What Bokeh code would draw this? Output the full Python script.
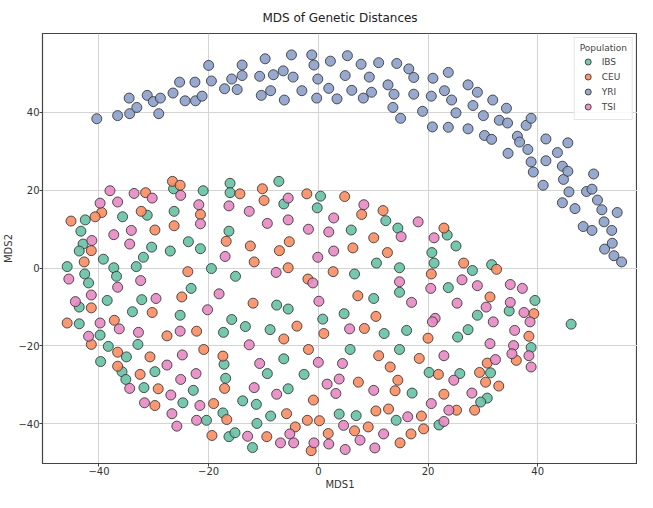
from bokeh.plotting import figure
from bokeh.models import FixedTicker, Range1d
from bokeh.embed import file_html
from bokeh.resources import INLINE

populations = ["IBS", "CEU", "YRI", "TSI"]
colors = ["#66c2a5", "#fc8d62", "#8da0cb", "#e78ac3"]

ibs = [(-26.4,20.4),(-7.2,22.3),(-21.0,19.9),(-16.1,21.8),(-16.1,19.4),(0.4,18.5),(12.3,12.2),(-6.3,16.5),
       (-0.2,15.5),(-42.5,12.4),(-35.7,13.2),(-31.2,13.6),(-26.3,14.6),(-43.3,9.5),(-16.3,9.5),(6.0,9.8),
       (14.5,10.3),(23.5,8.5),(-42.9,6.2),(-43.6,4.4),(-30.4,5.4),(-27.0,4.4),(-23.7,6.8),(-21.5,5.0),
       (25.1,5.7),(20.7,4.0),(-39.2,2.3),(-31.9,2.8),(10.6,1.3),(21.1,1.3),(31.6,0.9),(-45.8,0.4),
       (-37.3,0.1),(-33.2,0.4),(-19.5,-0.1),(14.8,0.1),(-42.6,-1.5),(-41.9,-3.8),(-36.8,-2.1),(-23.2,-5.2),
       (-15.1,-2.1),(6.6,-1.5),(28.1,-0.6),(23.7,-5.0),(14.8,-6.2),(39.5,-8.3),(-38.5,-8.3),(-43.6,-10.0),
       (-32.2,-8.1),(-7.6,-9.5),(-5.5,-10.5),(10.1,-7.8),(34.8,-11.0),(-33.9,-11.2),(-25.2,-12.1),
       (-43.6,-14.3),(-15.8,-13.2),(-13.3,-15.0),(4.7,-11.7),(0.8,-13.1),(29.0,-12.1),(46.1,-14.4),
       (-17.3,-16.5),(-8.8,-15.8),(12.0,-16.8),(16.1,-16.0),(27.3,-15.8),(-39.8,-17.2),(-32.9,-19.6),
       (-38.3,-20.1),(25.4,-17.7),(38.8,-20.4),(5.8,-20.9),(14.8,-20.9),(-35.0,-22.8),(-17.2,-24.7),
       (-39.7,-24.0),(-6.3,-23.3),(-35.8,-26.6),(-35.1,-28.6),(-29.8,-26.6),(-16.9,-28.3),(-9.3,-27.1),
       (-2.6,-27.3),(20.2,-26.8),(25.8,-27.1),(31.4,-26.9),(-31.8,-30.7),(-22.8,-31.4),(-5.5,-31.0),
       (17.1,-32.1),(30.8,-33.4),(29.6,-34.4),(-24.7,-34.6),(-13.8,-34.1),(-11.3,-35.0),(-17.4,-37.2),
       (-8.7,-38.0),(3.8,-37.5),(6.9,-37.9),(14.2,-39.1),(-20.4,-39.1),(-11.2,-39.9),(22.0,-40.3),
       (-16.3,-43.3),(-15.2,-42.3),(-12.0,-46.1)]

ceu = [(-26.6,22.3),(-25.2,21.3),(-31.5,19.4),(-14.3,19.1),(-10.2,20.4),(-9.9,17.4),(-2.1,19.1),(4.8,18.4),
       (7.9,13.8),(11.8,14.8),(-21.5,13.8),(-39.5,14.3),(-40.7,13.2),(-45.1,12.1),(-32.3,14.6),(-26.3,10.9),
       (-29.8,9.8),(10.1,7.8),(22.9,10.3),(-41.4,4.5),(-16.8,6.9),(-12.4,5.7),(-7.1,4.5),(-5.3,6.8),
       (6.3,5.2),(12.6,4.0),(26.5,1.3),(32.5,-0.3),(-42.7,1.6),(-11.7,1.6),(-23.8,-0.9),(-5.5,0.1),
       (-1.9,-2.8),(2.7,-0.9),(20.6,-1.5),(-24.9,-7.4),(-11.9,-9.0),(7.2,-7.1),(31.3,-7.4),(39.3,-11.7),
       (-41.4,-10.2),(-30.3,-11.4),(-37.2,-13.4),(-45.8,-14.1),(-3.9,-14.9),(10.5,-12.4),(-22.2,-16.2),
       (1.0,-16.8),(8.4,-15.5),(38.4,-17.5),(-27.6,-17.4),(-41.4,-19.6),(-6.3,-18.2),(20.0,-18.0),
       (-20.9,-20.9),(-1.8,-20.9),(-36.6,-21.6),(-30.7,-22.8),(-17.4,-22.6),(36.1,-23.7),(11.0,-22.5),
       (18.4,-23.2),(30.8,-24.4),(13.1,-25.4),(-36.6,-25.2),(-32.5,-27.3),(21.9,-27.3),(29.4,-26.8),
       (14.5,-28.8),(7.3,-29.3),(30.5,-29.3),(32.9,-30.3),(-29.2,-31.0),(-17.1,-30.9),(14.0,-31.5),
       (22.9,-32.4),(-0.9,-33.9),(-29.8,-35.3),(-19.1,-34.8),(10.5,-36.7),(12.8,-36.2),(25.2,-36.5),
       (28.5,-36.5),(-16.7,-38.9),(-5.8,-37.4),(-2.0,-39.1),(0.2,-39.2),(18.8,-38.0),(-4.2,-40.8),
       (6.6,-41.8),(9.1,-40.8),(19.2,-41.3),(-19.4,-43.0),(-9.4,-43.3),(1.8,-42.5),(16.9,-42.6),
       (14.9,-44.9),(-1.3,-46.9)]

yri = [(-40.4,38.4),(-36.6,39.2),(-34.5,43.7),(-34.4,39.7),(-33.1,41.3),(-31.2,44.4),(-30.1,42.8),
       (-29.1,39.7),(-28.8,43.7),(-26.5,45.0),(-25.3,47.8),(-24.3,43.0),(-22.5,47.8),(-22.4,43.0),
       (-21.2,44.2),(-20.0,52.1),(-19.5,48.1),(-17.1,46.1),(-15.8,48.6),(-14.8,45.9),(-13.9,52.2),
       (-13.9,49.5),(-10.7,49.3),(-10.4,44.4),(-9.7,53.8),(-8.7,45.6),(-8.2,49.7),(-6.4,50.7),(-6.2,43.2),
       (-4.9,54.8),(-4.6,49.1),(-3.0,45.6),(-1.2,54.8),(-0.8,52.2),(-0.3,43.7),(-0.1,48.6),(2.2,53.2),
       (1.9,46.2),(3.4,43.5),(4.9,49.5),(5.3,54.6),(6.1,45.7),(7.8,52.4),(8.2,43.7),(9.3,49.1),(9.7,45.2),
       (11.0,52.8),(12.7,47.1),(13.6,41.3),(13.8,44.7),(14.3,52.6),(15.0,38.5),(16.5,51.2),(17.4,49.0),
       (17.4,44.7),(19.0,40.3),(20.8,36.3),(20.6,44.2),(20.9,48.8),(23.0,45.6),(23.7,50.3),(23.7,36.2),
       (24.3,43.2),(25.1,39.9),(27.3,35.8),(27.3,47.1),(28.2,41.8),(29.0,45.2),(30.1,39.2),(30.3,34.1),
       (31.6,33.1),(31.8,43.2),(33.0,38.0),(34.3,41.1),(34.5,37.3),(34.6,29.5),(36.3,33.9),(36.7,32.4),
       (37.9,36.7),(38.2,30.5),(38.8,38.5),(38.8,27.3),(39.2,24.7),(41.0,21.3),(41.5,33.2),(41.5,27.6),
       (43.6,29.7),(44.5,26.2),(44.5,16.8),(44.7,22.8),(45.5,32.2),(45.5,24.9),(45.7,19.6),(46.8,15.3),
       (48.3,10.7),(48.9,19.7),(49.9,9.7),(49.9,20.3),(50.2,24.2),(50.9,17.5),(51.7,15.0),(52.1,11.9),
       (52.2,4.9),(53.5,9.7),(53.6,6.4),(53.9,3.2),(54.5,14.3),(55.3,1.6)]

tsi = [(-25.1,18.7),(-38.0,19.9),(-33.6,19.2),(-30.3,18.0),(-5.5,18.0),(8.3,16.3),(18.2,11.9),(-16.3,16.0),
       (-21.8,16.3),(-21.5,11.4),(-39.8,16.7),(-36.6,17.0),(-12.6,14.6),(-5.5,12.4),(-9.3,11.5),(2.8,12.9),
       (-37.3,8.6),(-34.1,9.7),(-1.8,10.0),(1.9,9.3),(15.1,8.1),(21.1,7.8),(-41.3,7.1),(-34.4,6.2),
       (2.8,4.4),(-17.0,3.0),(-0.1,2.8),(-45.5,-2.8),(-36.6,-4.9),(-32.4,-3.2),(-7.7,-1.1),(-1.0,-3.8),
       (20.5,-5.2),(26.2,-3.0),(29.0,-4.5),(14.8,-3.5),(35.0,-4.2),(37.2,-5.2),(-41.4,-6.9),(-44.3,-8.6),
       (-29.6,-7.8),(-18.1,-6.6),(0.1,-8.5),(17.0,-8.8),(25.3,-9.0),(30.6,-10.0),(35.0,-8.8),(37.5,-11.4),
       (-20.2,-10.7),(-39.8,-14.1),(-36.3,-15.6),(21.3,-12.9),(20.8,-13.8),(31.9,-13.8),(38.6,-13.8),
       (-25.2,-16.2),(-32.8,-16.5),(5.7,-15.6),(35.8,-16.0),(-41.9,-17.5),(-12.6,-19.7),(31.3,-19.4),
       (35.6,-19.9),(-24.8,-22.3),(35.3,-22.0),(38.4,-22.5),(38.8,-25.4),(22.9,-22.5),(32.3,-23.5),
       (0.0,-24.2),(4.4,-24.5),(-10.7,-24.5),(-27.6,-24.9),(-22.3,-27.1),(-25.1,-28.6),(3.8,-28.5),
       (24.7,-28.8),(-34.4,-30.9),(-11.7,-30.7),(1.6,-29.8),(10.1,-31.4),(3.2,-32.2),(28.0,-32.1),
       (-26.9,-32.6),(-7.6,-32.4),(-31.7,-34.6),(-21.6,-35.3),(20.6,-34.8),(23.8,-36.5),(-26.7,-37.4),
       (16.3,-38.2),(-22.2,-39.1),(-25.8,-40.6),(4.6,-40.4),(22.9,-39.4),(-12.9,-43.2),(11.9,-42.6),
       (-5.2,-42.6),(-6.9,-44.9),(-4.5,-44.9),(-0.8,-44.9),(1.9,-45.2),(7.6,-44.2),(4.9,-46.6),(10.3,-46.2)]

x_ticks = [-40, -20, 0, 20, 40, 60]
y_ticks = [-40, -20, 0, 20, 40]

FONT = "DejaVu Sans"

p = figure(width=637, height=492, output_backend="svg", toolbar_location=None,
           x_range=Range1d(-50.3, 58.2), y_range=Range1d(-50.2, 60.3),
           title="MDS of Genetic Distances",
           min_border_left=0, min_border_right=0, min_border_top=0, min_border_bottom=0)

p.title.align = "center"
p.title.text_font = FONT
p.title.text_font_size = "12px"
p.title.text_font_style = "normal"
p.title.text_color = "#222222"
p.title.standoff = 17

groups = [ibs, ceu, yri, tsi]
for name, col, pts in zip(populations, colors, groups):
    xs = [a for a, b in pts]
    ys = [b for a, b in pts]
    p.scatter(xs, ys, size=10, fill_color=col, fill_alpha=0.9,
              line_color="#333333", line_alpha=0.85, line_width=1, legend_label=name)

p.xaxis.ticker = FixedTicker(ticks=x_ticks)
p.yaxis.ticker = FixedTicker(ticks=y_ticks)
p.xaxis.axis_label = "MDS1"
p.yaxis.axis_label = "MDS2"
for ax in (p.xaxis[0], p.yaxis[0]):
    ax.axis_label_text_font = FONT
    ax.axis_label_text_font_size = "10px"
    ax.axis_label_text_font_style = "normal"
    ax.axis_label_text_color = "#333333"
    ax.axis_label_standoff = 1
    ax.major_label_text_font = FONT
    ax.major_label_text_font_size = "10px"
    ax.major_label_text_color = "#333333"
    ax.major_label_standoff = 0
    ax.major_tick_out = 3
    ax.major_tick_in = 0
    ax.minor_tick_out = 0
    ax.minor_tick_in = 0
    ax.axis_line_color = "#444444"
    ax.major_tick_line_color = "#444444"

p.grid.grid_line_color = "#d4d4d4"
p.grid.grid_line_width = 1
p.outline_line_color = "#444444"
p.outline_line_width = 1.2

lg = p.legend[0]
lg.location = "top_right"
lg.title = "Population"
lg.title_text_font = FONT
lg.title_text_font_size = "9px"
lg.title_text_font_style = "normal"
lg.title_standoff = 1
lg.label_text_font = FONT
lg.label_text_font_size = "9px"
lg.glyph_width = 16
lg.glyph_height = 15
lg.label_height = 15
lg.label_standoff = 6
lg.spacing = 0
lg.padding = 5
lg.margin = 4
lg.border_line_color = "#cccccc"
lg.background_fill_alpha = 0.85

open("out.html", "w").write(file_html(p, INLINE))
